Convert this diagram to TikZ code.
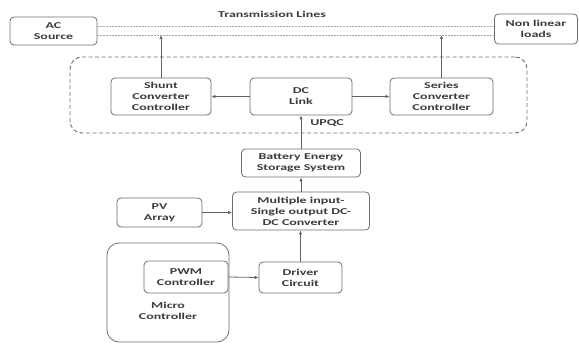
\documentclass[tikz,border=0pt]{standalone}
\usepackage{fontspec}
\newfontfamily\diagfont{Carlito}[FakeStretch=1.55]
\usetikzlibrary{arrows.meta}
\definecolor{txt}{HTML}{3A3A3A}
\definecolor{edge}{HTML}{6E6E6E}
\tikzset{
  blk/.style={draw=edge, line width=0.8pt, rounded corners=4pt, align=center,
    text=txt, font=\diagfont\bfseries\fontsize{9}{11}\selectfont, inner sep=0pt},
  lbl/.style={text=txt, align=center, font=\diagfont\bfseries\fontsize{9}{11}\selectfont, inner sep=0pt},
  conn/.style={draw=edge!90!black, line width=0.8pt, -{Latex[length=4pt,width=3.5pt]}},
  tline/.style={draw=gray!70, line width=0.7pt, dash pattern=on 2pt off 1pt},
  groupbox/.style={draw=edge, line width=0.9pt, dashed, dash pattern=on 4pt off 2.5pt, rounded corners=12pt},
}
\begin{document}
\begin{tikzpicture}[x=1pt,y=-1pt]
\useasboundingbox (0,0) rectangle (579,345);
% group boxes
\node[groupbox, minimum width=457pt, minimum height=76pt] (upqc) at (298.5,95) {};
\draw[draw=edge, line width=0.8pt, rounded corners=12pt] (107,243) rectangle (229,342);
\coordinate (mc) at (168,292);
% blocks
\node[blk, minimum width=87pt, minimum height=28pt] (ac) at (53.5,31) {AC\\Source};
\node[blk, minimum width=83pt, minimum height=30pt] (nl) at (536,29) {Non linear\\loads};
\node[lbl] (tl) at (272,14) {Transmission Lines};
\node[blk, minimum width=100pt, minimum height=37pt] (shunt) at (161,96.5) {Shunt\\Converter\\Controller};
\node[blk, minimum width=102pt, minimum height=37pt] (dc) at (301,96.5) {DC\\Link};
\node[blk, minimum width=103pt, minimum height=37pt] (series) at (441.5,96.5) {Series\\Converter\\Controller};
\node[lbl] (upqclbl) at (327,123) {UPQC};
\node[blk, minimum width=119pt, minimum height=28pt] (bess) at (301,163) {Battery Energy\\Storage System};
\node[blk, minimum width=137pt, minimum height=38pt] (misc) at (301,211) {Multiple input-\\Single output DC-\\DC Converter};
\node[blk, minimum width=85pt, minimum height=29pt] (pv) at (159.5,212.5) {PV\\Array};
\node[blk, minimum width=84pt, minimum height=32pt] (pwm) at (186,277) {PWM\\Controller};
\node[blk, minimum width=83pt, minimum height=31pt] (drv) at (300.5,277.5) {Driver\\Circuit};
\node[lbl] (mclbl) at (168,311) {Micro\\Controller};
% transmission lines
\coordinate (t1a) at (ac.east |- 0,26);
\coordinate (t1b) at (nl.west |- 0,26);
\coordinate (t2a) at (ac.east |- 0,35);
\coordinate (t2b) at (nl.west |- 0,35);
\draw[tline] (t1a) -- (t1b);
\draw[tline] (t2a) -- (t2b);
\coordinate (sh) at (shunt.north |- t2a);
\coordinate (se) at (series.north |- t2a);
% connectors
\draw[conn] (shunt.north) -- (sh);
\draw[conn] (series.north) -- (se);
\draw[conn] (dc.west) -- (shunt.east);
\draw[conn] (dc.east) -- (series.west);
\draw[conn] (bess.north) -- (dc.south);
\draw[conn] (misc.north) -- (bess.south);
\draw[conn] (pv.east) -- (pv.east -| misc.west);
\draw[conn] (drv.north) -- (drv.north |- misc.south);
\draw[conn] (pwm.east) -- (drv.west);
\end{tikzpicture}
\end{document}
